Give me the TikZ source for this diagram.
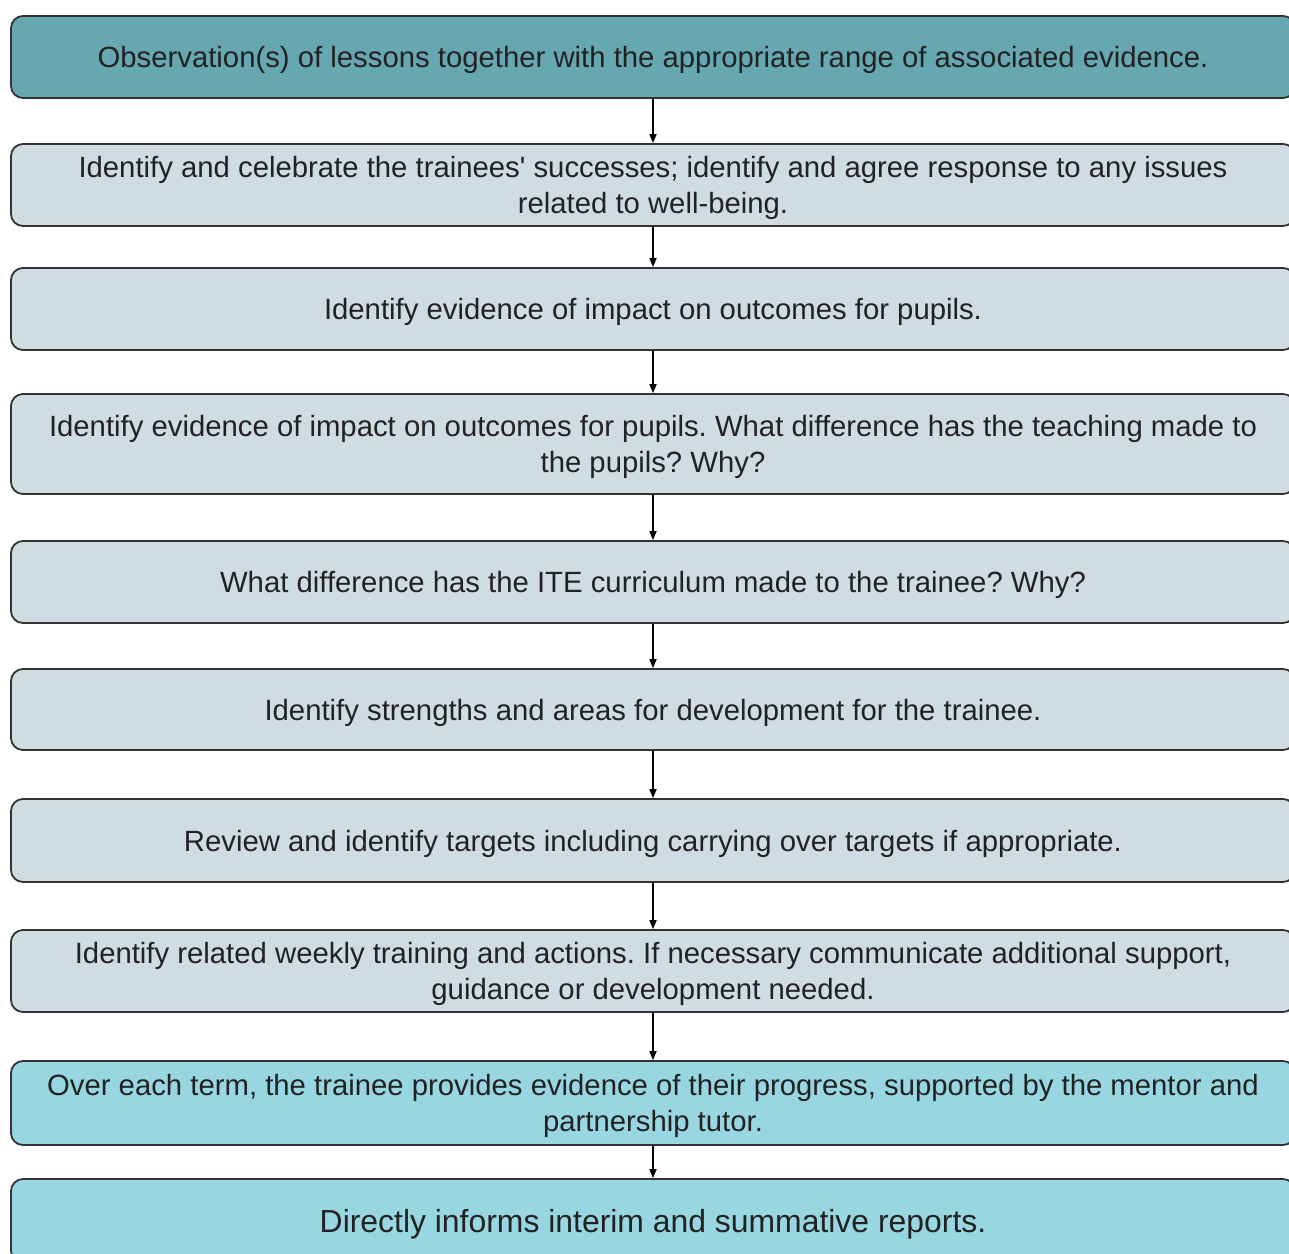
\documentclass[tikz,border=0pt]{standalone}
\usepackage{fontspec}
\setmainfont[Ligatures=TeXOff]{Liberation Sans}
\usetikzlibrary{arrows.meta}
\definecolor{tealbox}{HTML}{66A7B1}
\definecolor{greybox}{HTML}{CFDDE2}
\definecolor{cyanbox}{HTML}{98D7E2}
\definecolor{edgec}{HTML}{333333}
\definecolor{txt}{HTML}{222222}
\frenchspacing
\begin{document}
\begin{tikzpicture}[x=1pt,y=1pt,
 box/.style={draw=edgec, line width=1.8pt, rounded corners=12pt, minimum width=1284pt, align=center, font=\fontsize{29.3}{36}\selectfont, text=txt, inner sep=0pt, text height=28pt},
 twoline/.style={text height=64pt},
 arr/.style={-{Triangle[length=9pt,width=7pt]}, line width=1.6pt, black}]
\useasboundingbox (0,0) rectangle (1289,-1253);
\node[box, fill=tealbox, minimum height=82pt] (b1) at (653,-57) {Observation(s) of lessons together with the appropriate range of associated evidence.};
\node[box, twoline, fill=greybox, minimum height=82pt] (b2) at (653,-185) {Identify and celebrate the trainees' successes; identify and agree response to any issues\\related to well-being.};
\node[box, fill=greybox, minimum height=82pt] (b3) at (653,-309) {Identify evidence of impact on outcomes for pupils.};
\node[box, twoline, fill=greybox, minimum height=100pt] (b4) at (653,-444) {Identify evidence of impact on outcomes for pupils. What difference has the teaching made to\\the pupils? Why?};
\node[box, fill=greybox, minimum height=82pt] (b5) at (653,-582) {What difference has the ITE curriculum made to the trainee? Why?};
\node[box, fill=greybox, minimum height=81pt] (b6) at (653,-709.5) {Identify strengths and areas for development for the trainee.};
\node[box, fill=greybox, minimum height=83pt] (b7) at (653,-840.5) {Review and identify targets including carrying over targets if appropriate.};
\node[box, twoline, fill=greybox, minimum height=82pt] (b8) at (653,-971) {Identify related weekly training and actions. If necessary communicate additional support,\\guidance or development needed.};
\node[box, twoline, fill=cyanbox, minimum height=84pt] (b9) at (653,-1103) {Over each term, the trainee provides evidence of their progress, supported by the mentor and\\partnership tutor.};
\node[box, fill=cyanbox, minimum height=84pt, font=\fontsize{31.9}{36}\selectfont, text height=29.5pt] (b10) at (653,-1221) {Directly informs interim and summative reports.};
\draw[arr] (b1.south) -- (b2.north);
\draw[arr] (b2.south) -- (b3.north);
\draw[arr] (b3.south) -- (b4.north);
\draw[arr] (b4.south) -- (b5.north);
\draw[arr] (b5.south) -- (b6.north);
\draw[arr] (b6.south) -- (b7.north);
\draw[arr] (b7.south) -- (b8.north);
\draw[arr] (b8.south) -- (b9.north);
\draw[arr] (b9.south) -- (b10.north);
\end{tikzpicture}
\end{document}
